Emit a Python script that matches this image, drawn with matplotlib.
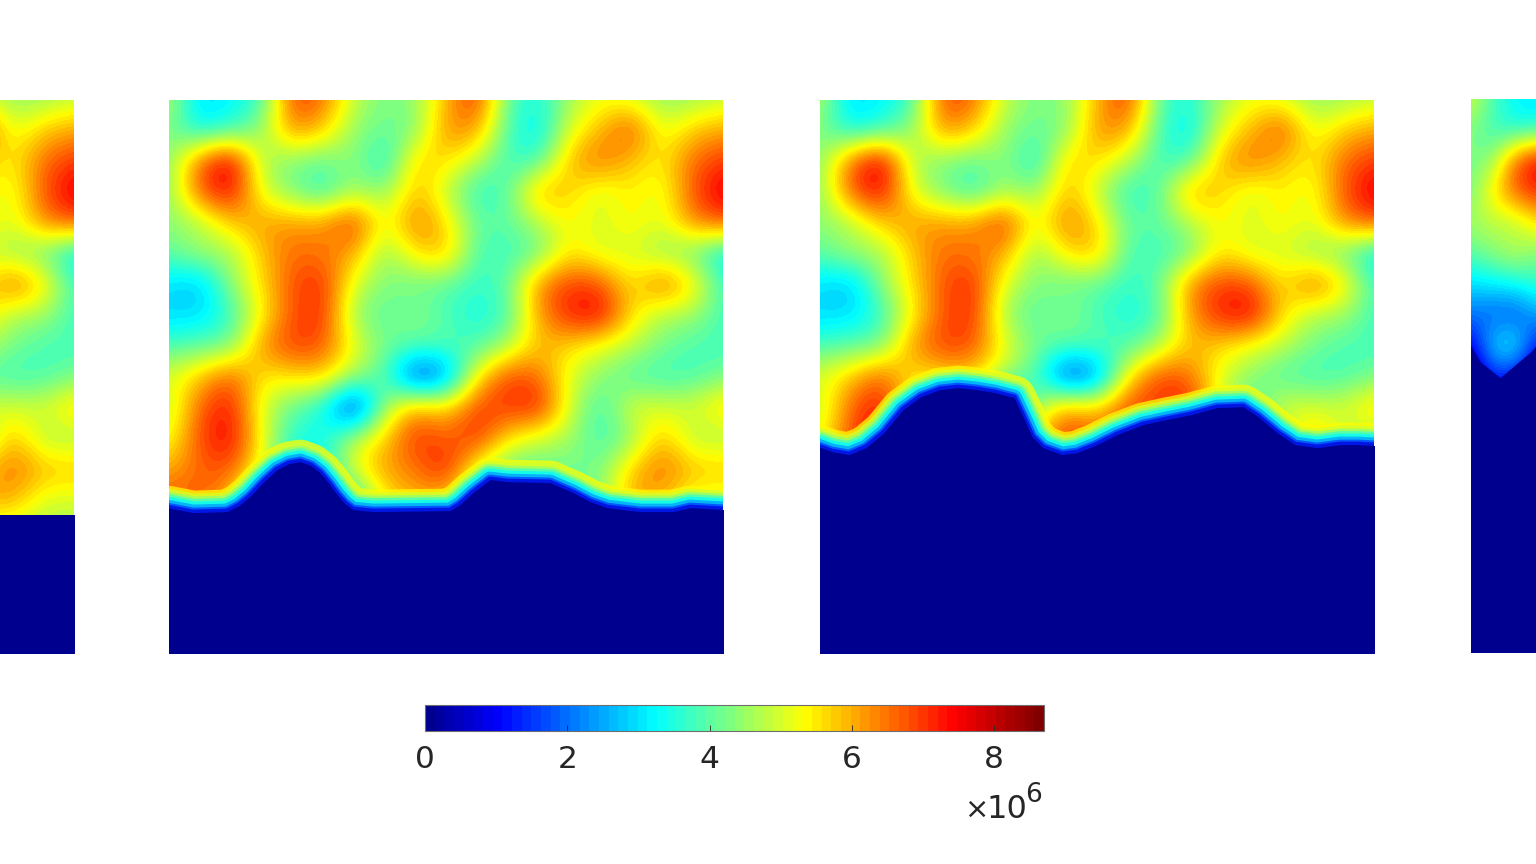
import numpy as np
import matplotlib
matplotlib.use("Agg")
import matplotlib.pyplot as plt
from matplotlib.colors import LinearSegmentedColormap, Normalize
from matplotlib.cm import ScalarMappable

# -----------------------
# Data (units of 1e6)
# -----------------------

# grid spacing about 30.8 px, columns run left to right, rows top to bottom
field = [
    [4.8, 2.8, 3.2, 3.6, 7.0, 6.6, 4.8, 4.2, 4.4, 5.9, 7.2, 3.9, 3.4, 4.6, 5.2, 5.0, 4.4, 4.5, 4.8],
    [4.3, 3.2, 3.6, 4.4, 6.4, 5.8, 4.4, 4.1, 4.2, 6.4, 6.2, 3.8, 3.0, 5.1, 5.9, 7.0, 5.0, 5.8, 6.1],
    [4.3, 6.6, 7.9, 4.6, 4.3, 4.0, 4.5, 3.2, 5.8, 5.6, 4.8, 3.7, 3.7, 6.0, 6.6, 5.8, 5.4, 6.6, 7.0],
    [4.3, 6.8, 7.6, 5.0, 4.2, 3.5, 4.6, 4.3, 6.0, 4.8, 3.5, 3.9, 6.2, 5.7, 4.9, 5.5, 5.0, 6.8, 7.7],
    [4.4, 4.6, 5.8, 6.2, 6.2, 6.2, 7.2, 5.0, 6.6, 5.6, 4.0, 4.0, 4.7, 5.4, 5.0, 5.5, 5.0, 6.4, 6.8],
    [4.0, 4.6, 4.5, 5.8, 6.6, 6.4, 6.1, 4.3, 5.6, 6.0, 3.8, 3.7, 4.0, 5.6, 4.9, 5.0, 4.4, 4.1, 3.0],
    [3.0, 2.6, 4.4, 5.6, 6.8, 7.2, 5.0, 4.3, 4.1, 4.0, 3.6, 4.0, 6.4, 7.0, 6.9, 5.4, 6.8, 5.6, 3.7],
    [2.9, 2.9, 3.6, 5.3, 6.8, 7.2, 4.4, 3.9, 4.4, 3.8, 3.4, 3.7, 6.2, 7.3, 7.6, 5.6, 4.6, 4.6, 3.7],
    [3.8, 4.0, 4.1, 6.3, 7.0, 6.8, 5.2, 4.2, 4.0, 4.0, 3.8, 4.6, 5.9, 5.6, 5.1, 4.8, 4.2, 3.8, 3.8],
    [5.1, 5.8, 6.8, 5.4, 5.6, 5.8, 4.6, 3.9, 1.2, 2.0, 5.5, 7.0, 6.6, 5.0, 4.4, 3.8, 3.7, 3.8, 4.2],
    [4.7, 6.7, 7.4, 5.0, 4.0, 3.4, 0.8, 4.6, 6.2, 5.6, 7.0, 7.0, 7.4, 5.0, 3.6, 5.2, 5.0, 5.0, 5.8],
    [5.1, 6.9, 7.6, 5.3, 3.5, 3.4, 4.8, 5.7, 7.2, 6.6, 7.2, 5.5, 4.9, 4.6, 3.7, 4.3, 6.0, 4.6, 4.6],
    [6.0, 6.6, 6.8, 5.2, 3.0, 3.0, 5.3, 6.2, 6.4, 7.4, 5.0, 4.0, 4.0, 4.2, 4.2, 5.8, 6.6, 5.9, 5.9],
    [6.8, 6.8, 6.0, 3.0, 3.0, 3.0, 3.0, 5.5, 6.0, 5.8, 4.0, 3.0, 3.0, 4.0, 4.2, 6.2, 6.0, 5.0, 5.0],
    [5.0, 5.0, 5.0, 3.0, 3.0, 3.0, 3.0, 5.0, 5.0, 5.0, 4.0, 3.0, 3.0, 4.0, 4.0, 4.6, 4.8, 4.6, 4.6],
]

# right-hand panel has its own values, only its left edge shows
field_right = [
    [5.0, 3.9, 3.2, 3.0],
    [4.3, 3.7, 3.4, 3.5],
    [4.2, 4.4, 6.6, 7.6],
    [4.2, 5.5, 6.8, 7.2],
    [4.6, 4.8, 4.7, 5.6],
    [4.0, 4.4, 4.8, 4.3],
    [3.0, 3.2, 3.4, 3.7],
    [2.1, 1.8, 1.6, 2.5],
    [0.8, 3.0, 3.4, 1.2],
    [0.0, 1.5, 1.2, 0.0],
    [0.0, 0.0, 0.0, 0.0],
    [0.0, 0.0, 0.0, 0.0],
    [0.0, 0.0, 0.0, 0.0],
    [0.0, 0.0, 0.0, 0.0],
    [0.0, 0.0, 0.0, 0.0],
    [0.0, 0.0, 0.0, 0.0],
    [0.0, 0.0, 0.0, 0.0],
    [0.0, 0.0, 0.0, 0.0],
    [0.0, 0.0, 0.0, 0.0],
]

# front position, px from the panel's top left corner
front_left_x = [-2, 556]
front_left_y = [415, 415]

front_mid_x = [-2, 24, 58, 70, 81, 95, 108, 120, 131, 142, 151, 160, 168, 176, 184, 204, 281, 291, 304, 321, 338, 381, 404, 421, 438, 471, 504, 521, 556]
front_mid_y = [408, 413, 412, 406, 397, 382, 370, 364, 362, 366, 373, 384, 395, 404, 410, 412, 411, 405, 393, 380, 382, 383, 393, 402, 408, 412, 412, 408, 410]

front_next_x = [-2, 12, 29, 46, 64, 83, 101, 120, 138, 157, 175, 194, 203, 212, 223, 242, 257, 275, 297, 323, 346, 371, 397, 423, 438, 457, 475, 497, 520, 538, 556]
front_next_y = [347, 352, 355, 348, 333, 310, 297, 290, 288, 290, 293, 298, 317, 337, 348, 355, 353, 346, 335, 325, 320, 315, 308, 307, 317, 333, 345, 348, 345, 345, 346]

front_right_x = [-2, 9, 29, 60, 67]
front_right_y = [244, 263, 279, 253, 245]

bar_ticks = [0, 2, 4, 6, 8]
glow_levels = [5.4, 5.0, 4.4, 3.8, 3.2, 2.4, 1.6, 0.8]
glow_widths = [44, 38, 32, 27, 22, 16, 10, 6]

# -----------------------
# Colours
# -----------------------

jet_like = LinearSegmentedColormap.from_list(
    "jet_like",
    [(0.0, (0, 0, 0.5625)), (0.115, (0, 0, 1)), (0.37, (0, 1, 1)), (0.615, (1, 1, 0)), (0.86, (1, 0, 0)), (1.0, (0.5, 0, 0))],
    N=64,
)
norm = Normalize(0, 8.7)
navy = jet_like(0)

W, H = 1536, 864
SIZE = 553.5
fig = plt.figure(figsize=(15.36, 8.64), dpi=100)


def panel_axes(left, top):
    ax = fig.add_axes([left / W, 1 - (top + SIZE) / H, SIZE / W, SIZE / H])
    ax.axis("off")
    return ax


def draw_panel(left, top, values, front_x, front_y, dx, glow=True):
    ax = panel_axes(left, top)
    values = np.array(values)
    nrows, ncols = values.shape
    ax.imshow(values, cmap=jet_like, norm=norm, interpolation="bicubic", interpolation_stage="data",
              extent=(-dx / 2, (ncols - 0.5) * dx, (nrows - 0.5) * 30.8, -15.4), aspect="auto")
    if glow:
        for v, w in zip(glow_levels, glow_widths):
            ax.plot(front_x, front_y, color=jet_like(norm(v)), lw=w * 0.72, alpha=0.75,
                    solid_joinstyle="round", solid_capstyle="round", zorder=2)
    ax.fill_between(front_x, front_y, 600, color=navy, lw=0, zorder=3)
    ax.set_xlim(0, SIZE)
    ax.set_ylim(SIZE, 0)


# -----------------------
# Panels
# -----------------------

draw_panel(-479.5, 99.6, field, front_left_x, front_left_y, 30.8, glow=False)
draw_panel(169, 99.6, field, front_mid_x, front_mid_y, 30.8)
draw_panel(820, 99.6, field, front_next_x, front_next_y, 30.8)
draw_panel(1471, 98.6, field_right, front_right_x, front_right_y, 22, glow=False)

# -----------------------
# Colour bar
# -----------------------

cax = fig.add_axes([425 / W, 1 - 731 / H, 619 / W, 26 / H])
cb = fig.colorbar(ScalarMappable(norm=norm, cmap=jet_like), cax=cax, orientation="horizontal", ticks=bar_ticks)
cb.outline.set_edgecolor("#6e6e6e")
cb.outline.set_linewidth(0.8)
cax.tick_params(axis="x", direction="in", length=4, width=0.6, color="#262626", labelsize=22.5,
                labelcolor="#262626", pad=10)

fig.text(964 / W, 1 - 818 / H, r"$\times$", ha="left", va="baseline", fontsize=21, color="#262626")
fig.text(986 / W, 1 - 818 / H, "10", ha="left", va="baseline", fontsize=23, color="#262626")
fig.text(1025 / W, 1 - 802 / H, "6", ha="left", va="baseline", fontsize=19, color="#262626")

fig.savefig("out.png", dpi=100)
